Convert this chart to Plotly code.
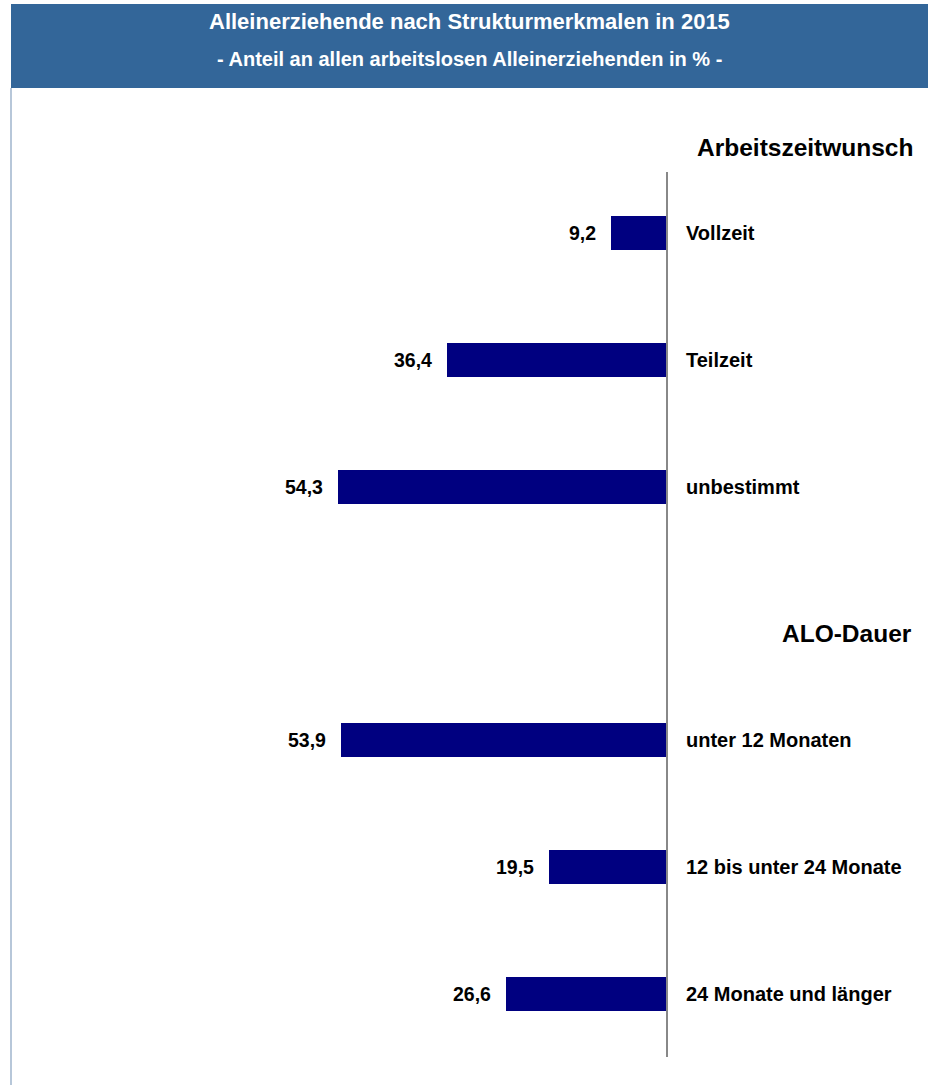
import plotly.graph_objects as go

# Data: share of all unemployed single parents (%), 2015
categories = ["Vollzeit", "Teilzeit", "unbestimmt", "",
              "unter 12 Monaten", "12 bis unter 24 Monate", "24 Monate und länger"]
values = [9.2, 36.4, 54.3, None, 53.9, 19.5, 26.6]
group_titles = ["Arbeitszeitwunsch", "ALO-Dauer"]

title = "Alleinerziehende nach Strukturmerkmalen in 2015"
subtitle = "- Anteil an allen arbeitslosen Alleinerziehenden in % -"

FONT = "Liberation Sans, Arial, sans-serif"
W, H = 928, 1085
M_T, M_B = 170, 28
plot_h = H - M_T - M_B


def py(px):
    """Pixel row -> paper y coordinate."""
    return (H - M_B - px) / plot_h


pos = list(range(len(categories)))
bar_x = [-v if v is not None else None for v in values]

fig = go.Figure()
fig.add_trace(go.Bar(
    x=bar_x, y=pos, orientation="h",
    marker=dict(color="#000080", line=dict(width=0)),
    width=0.27, hoverinfo="skip", showlegend=False,
))

annotations = []
for i, (cat, v) in enumerate(zip(categories, values)):
    if v is None:
        continue
    annotations.append(dict(
        x=-v, y=i, xref="x", yref="y", xanchor="right", yanchor="middle",
        xshift=-13, showarrow=False,
        text=f"{v:.1f}".replace(".", ","),
        font=dict(family=FONT, size=19.5, color="#000000", weight="bold"),
    ))
    annotations.append(dict(
        x=0, y=i, xref="x", yref="y", xanchor="left", yanchor="middle",
        xshift=17, showarrow=False, text=cat,
        font=dict(family=FONT, size=20, color="#000000", weight="bold"),
    ))

# Group headings
annotations.append(dict(
    x=915 / W, y=py(148), xref="paper", yref="paper", xanchor="right", yanchor="middle",
    showarrow=False, text=group_titles[0],
    font=dict(family=FONT, size=24.5, color="#000000", weight="bold"),
))
annotations.append(dict(
    x=914 / W, y=py(633), xref="paper", yref="paper", xanchor="right", yanchor="middle",
    showarrow=False, text=group_titles[1],
    font=dict(family=FONT, size=24.5, color="#000000", weight="bold"),
))

# Header band texts
cx = (11 + W) / 2 / W
annotations.append(dict(
    x=cx, y=py(21), xref="paper", yref="paper", xanchor="center", yanchor="middle",
    showarrow=False, text=title,
    font=dict(family=FONT, size=22, color="#ffffff", weight="bold"),
))
annotations.append(dict(
    x=cx, y=py(59), xref="paper", yref="paper", xanchor="center", yanchor="middle",
    showarrow=False, text=subtitle,
    font=dict(family=FONT, size=20, color="#ffffff", weight="bold"),
))

shapes = [
    # header band
    dict(type="rect", xref="paper", yref="paper",
         x0=11 / W, x1=1.0, y0=py(88), y1=py(4),
         fillcolor="#336699", line=dict(width=0), layer="below"),
    # left frame line
    dict(type="line", xref="paper", yref="paper",
         x0=11 / W, x1=11 / W, y0=py(88), y1=py(H + 5),
         line=dict(color="#9fb4cc", width=1.5)),
    # zero axis line
    dict(type="line", xref="x", yref="paper",
         x0=0, x1=0, y0=py(1057), y1=py(172),
         line=dict(color="#888888", width=2)),
]

scale = 6.05  # px per percentage point
x_left = -667 / scale
x_right = (W - 667) / scale

fig.update_layout(
    width=W, height=H,
    margin=dict(l=0, r=0, t=M_T, b=M_B, pad=0),
    paper_bgcolor="#ffffff", plot_bgcolor="#ffffff",
    xaxis=dict(range=[x_left, x_right], visible=False, fixedrange=True),
    yaxis=dict(range=[len(categories) - 0.5, -0.5], visible=False, fixedrange=True),
    annotations=annotations, shapes=shapes,
    bargap=0, showlegend=False,
)

fig.write_html("out.html")
